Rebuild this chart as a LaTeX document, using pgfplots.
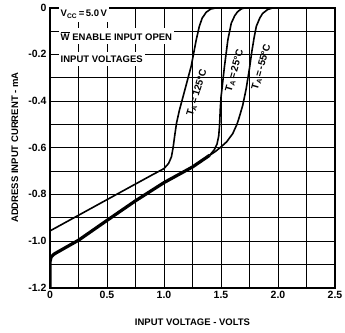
\documentclass[border=0pt]{standalone}
\usepackage{pgfplots}
\pgfplotsset{compat=1.18}
\usepackage{fontspec}
\setmainfont{Liberation Sans}

\begin{document}
\begin{tikzpicture}
\useasboundingbox (-50pt,-45pt) rectangle (295pt,287.6pt);
\begin{axis}[
    scale only axis,
    width=285pt, height=280pt,
    xmin=0, xmax=2.5, ymin=-1.2, ymax=0,
    xtick={0,0.5,1,1.5,2,2.5},
    xticklabels={0,0.5,1.0,1.5,2.0,2.5},
    minor xtick={0.25,0.75,1.25,1.75,2.25},
    ytick={-1.2,-1.0,-0.8,-0.6,-0.4,-0.2,0},
    yticklabels={-1.2,-1.0,-0.8,-0.6,-0.4,-0.2,0},
    minor ytick={-1.1,-0.9,-0.7,-0.5,-0.3,-0.1},
    grid=both,
    major grid style={black, line width=0.8pt},
    minor grid style={black, line width=0.8pt},
    major tick length=0pt, minor tick length=0pt,
    axis line style={line width=2pt},
    ticklabel style={font=\bfseries\fontsize{10.5}{12}\selectfont},
    every axis x label/.style={at={(axis description cs:0.5,-0.125)}, anchor=center},
    every axis y label/.style={at={(axis description cs:-0.123,0.5)}, rotate=90, anchor=center},
    label style={font=\bfseries\fontsize{9.5}{12}\selectfont},
    xlabel={INPUT VOLTAGE - VOLTS},
    ylabel={ADDRESS INPUT CURRENT - mA},
]
% T_A = 125 C
\addplot[black, line width=1.6pt, line join=round] coordinates {
    (0,-0.957) (0.25,-0.89) (0.5,-0.823) (0.75,-0.756) (0.9,-0.716)
    (1.0,-0.69) (1.04,-0.668) (1.065,-0.64) (1.08,-0.60) (1.095,-0.545)
    (1.11,-0.495) (1.135,-0.44) (1.19,-0.34) (1.239,-0.25) (1.282,-0.14)
    (1.31,-0.08) (1.335,-0.045) (1.37,-0.02) (1.41,-0.006) (1.47,0) (2.5,0)
};
% shared part, 25 C and -55 C
\addplot[black, line width=3.2pt, line join=round] coordinates {
    (0,-1.2) (0,-1.09) (0.01,-1.068) (0.04,-1.055) (0.25,-0.997)
    (0.5,-0.912) (0.75,-0.828) (1.0,-0.75) (1.25,-0.683) (1.40,-0.633)
};
% T_A = 25 C
\addplot[black, line width=1.6pt, line join=round] coordinates {
    (1.40,-0.633) (1.44,-0.61) (1.465,-0.585) (1.48,-0.55) (1.488,-0.50)
    (1.493,-0.44) (1.50,-0.385) (1.515,-0.32) (1.53,-0.254) (1.56,-0.139)
    (1.59,-0.067) (1.62,-0.035) (1.645,-0.018) (1.68,-0.005) (1.72,0) (2.5,0)
};
% T_A = -55 C
\addplot[black, line width=1.6pt, line join=round] coordinates {
    (1.40,-0.633) (1.45,-0.617) (1.50,-0.597) (1.55,-0.575) (1.603,-0.54)
    (1.64,-0.50) (1.66,-0.47) (1.69,-0.42) (1.72,-0.35) (1.75,-0.26)
    (1.77,-0.19) (1.79,-0.13) (1.81,-0.08) (1.84,-0.045) (1.865,-0.025)
    (1.91,-0.008) (1.95,-0.002) (2.02,0) (2.5,0)
};
\begin{scope}[every node/.style={font=\bfseries\fontsize{10}{12}\selectfont}]
\node[rotate=73] at (axis cs:1.29,-0.365) {T\textsubscript{A}\,=\,125°C};
\node[rotate=74] at (axis cs:1.62,-0.27) {T\textsubscript{A}\,=\,25°C};
\node[rotate=74] at (axis cs:1.855,-0.255) {T\textsubscript{A}\,=\,-55°C};
\end{scope}
\begin{scope}[every node/.style={anchor=west, fill=white, inner xsep=2pt, inner ysep=4pt, font=\bfseries\fontsize{9.5}{12}\selectfont}]
\node at (axis cs:0.075,-0.028) {V\textsubscript{CC}\,=\,5.0\,V};
\node at (axis cs:0.075,-0.122) {$\overline{\mbox{W}}$ ENABLE INPUT OPEN};
\node at (axis cs:0.075,-0.22) {INPUT VOLTAGES};
\end{scope}
\end{axis}
\end{tikzpicture}
\end{document}
